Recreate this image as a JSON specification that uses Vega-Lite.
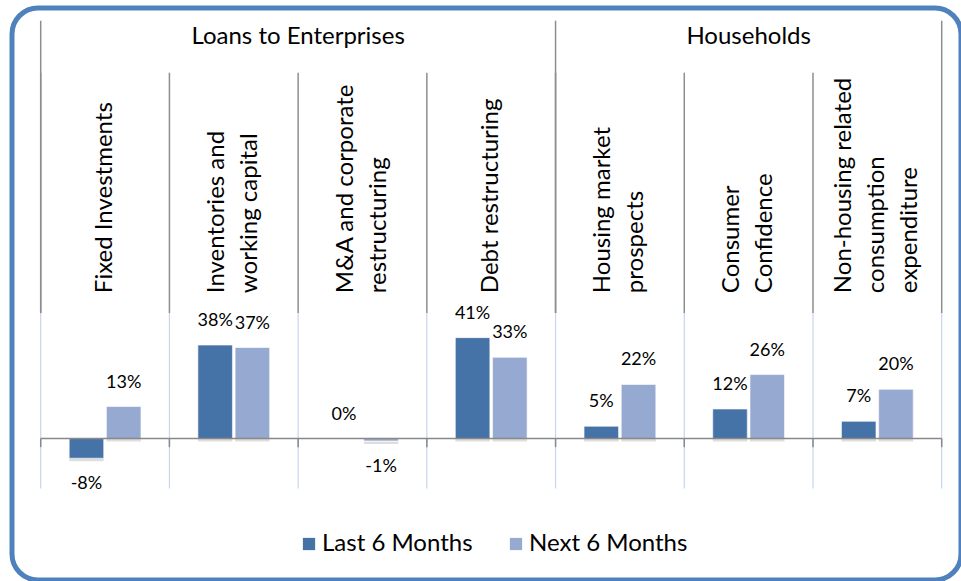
{
  "$schema": "https://vega.github.io/schema/vega-lite/v6.json",
  "width": 949,
  "height": 572,
  "autosize": {"type": "none"},
  "padding": {"left": 12, "top": 8, "right": 0, "bottom": 1},
  "config": {
    "view": {"stroke": "#4F81BD", "strokeWidth": 5, "cornerRadius": 26},
    "font": "Lato",
    "text": {"font": "Lato", "color": "#000000"}
  },
  "data": {
    "values": [
      {"group": "Loans to Enterprises", "category": "Fixed Investments", "period": "Last 6 Months", "value": -8},
      {"group": "Loans to Enterprises", "category": "Fixed Investments", "period": "Next 6 Months", "value": 13},
      {"group": "Loans to Enterprises", "category": "Inventories and\nworking capital", "period": "Last 6 Months", "value": 38},
      {"group": "Loans to Enterprises", "category": "Inventories and\nworking capital", "period": "Next 6 Months", "value": 37},
      {"group": "Loans to Enterprises", "category": "M&A and corporate\nrestructuring", "period": "Last 6 Months", "value": 0},
      {"group": "Loans to Enterprises", "category": "M&A and corporate\nrestructuring", "period": "Next 6 Months", "value": -1},
      {"group": "Loans to Enterprises", "category": "Debt restructuring", "period": "Last 6 Months", "value": 41},
      {"group": "Loans to Enterprises", "category": "Debt restructuring", "period": "Next 6 Months", "value": 33},
      {"group": "Households", "category": "Housing market\nprospects", "period": "Last 6 Months", "value": 5},
      {"group": "Households", "category": "Housing market\nprospects", "period": "Next 6 Months", "value": 22},
      {"group": "Households", "category": "Consumer\nConfidence", "period": "Last 6 Months", "value": 12},
      {"group": "Households", "category": "Consumer\nConfidence", "period": "Next 6 Months", "value": 26},
      {"group": "Households", "category": "Non-housing related\nconsumption\nexpenditure", "period": "Last 6 Months", "value": 7},
      {"group": "Households", "category": "Non-housing related\nconsumption\nexpenditure", "period": "Next 6 Months", "value": 20}
    ]
  },
  "transform": [{"calculate": "datum.value + '%'", "as": "label"}],
  "layer": [
    {
      "transform": [{"filter": "datum.period == 'Last 6 Months'"}],
      "mark": {"type": "rule", "color": "#C6D6EC", "strokeWidth": 1.2},
      "encoding": {
        "x": {"field": "category", "type": "nominal", "bandPosition": 0, "axis": null, "scale": {"domain": ["Fixed Investments", "Inventories and\nworking capital", "M&A and corporate\nrestructuring", "Debt restructuring", "Housing market\nprospects", "Consumer\nConfidence", "Non-housing related\nconsumption\nexpenditure"], "paddingInner": 0, "paddingOuter": 0.1865, "align": 0.598}},
        "y": {"datum": 51, "type": "quantitative", "axis": null, "scale": {"domain": [-57.5, 175], "nice": false, "zero": false}},
        "y2": {"datum": -20.3}
      }
    },
    {
      "transform": [{"filter": "datum.period == 'Last 6 Months' && indexof(datum.category, 'Non-housing') == 0"}],
      "mark": {"type": "rule", "color": "#C6D6EC", "strokeWidth": 1.2},
      "encoding": {
        "x": {"field": "category", "type": "nominal", "bandPosition": 1, "axis": null},
        "y": {"datum": 51, "type": "quantitative", "axis": null},
        "y2": {"datum": -20.3}
      }
    },
    {
      "transform": [{"filter": "datum.period == 'Last 6 Months'"}],
      "mark": {"type": "rule", "color": "#8E8E8E", "strokeWidth": 1.5},
      "encoding": {
        "x": {"field": "category", "type": "nominal", "bandPosition": 0, "axis": null},
        "y": {"datum": 51, "type": "quantitative", "axis": null},
        "y2": {"datum": 148.7}
      }
    },
    {
      "transform": [{"filter": "datum.period == 'Last 6 Months' && (datum.category == 'Fixed Investments' || indexof(datum.category, 'Housing market') == 0)"}],
      "mark": {"type": "rule", "color": "#8E8E8E", "strokeWidth": 1.5},
      "encoding": {
        "x": {"field": "category", "type": "nominal", "bandPosition": 0, "axis": null},
        "y": {"datum": 51, "type": "quantitative", "axis": null},
        "y2": {"datum": 169.8}
      }
    },
    {
      "transform": [{"filter": "datum.period == 'Last 6 Months' && indexof(datum.category, 'Non-housing') == 0"}],
      "mark": {"type": "rule", "color": "#8E8E8E", "strokeWidth": 1.5},
      "encoding": {
        "x": {"field": "category", "type": "nominal", "bandPosition": 1, "axis": null},
        "y": {"datum": 51, "type": "quantitative", "axis": null},
        "y2": {"datum": 169.8}
      }
    },
    {
      "mark": {"type": "bar", "color": "#000000", "opacity": 0.13, "xOffset": 2, "yOffset": 3},
      "encoding": {
        "x": {"field": "category", "type": "nominal", "axis": null},
        "xOffset": {"field": "period", "type": "nominal", "scale": {"paddingInner": 0.073, "paddingOuter": 0.765}},
        "y": {"field": "value", "type": "quantitative", "axis": null}
      }
    },
    {
      "mark": {"type": "bar", "stroke": "#FFFFFF", "strokeWidth": 0.6},
      "encoding": {
        "x": {"field": "category", "type": "nominal", "axis": null},
        "xOffset": {"field": "period", "type": "nominal", "scale": {"paddingInner": 0.073, "paddingOuter": 0.765}},
        "y": {"field": "value", "type": "quantitative", "axis": null},
        "color": {
          "field": "period",
          "type": "nominal",
          "scale": {"domain": ["Last 6 Months", "Next 6 Months"], "range": ["#4572A7", "#95A9D1"]},
          "legend": {
            "orient": "none",
            "legendX": 285,
            "legendY": 524,
            "direction": "horizontal",
            "title": null,
            "symbolType": "square",
            "symbolSize": 150,
            "symbolStrokeWidth": 0,
            "labelFontSize": 24,
            "labelFont": "Lato",
            "labelColor": "#000000",
            "labelOffset": 1,
            "columnPadding": 31,
            "padding": 0
          }
        }
      }
    },
    {
      "transform": [{"filter": "datum.period == 'Last 6 Months'"}],
      "mark": {"type": "rule", "color": "#888888", "strokeWidth": 1.5},
      "encoding": {
        "x": {"field": "category", "type": "nominal", "bandPosition": 0, "axis": null},
        "x2": {"field": "category", "bandPosition": 1},
        "y": {"datum": 0, "type": "quantitative", "axis": null}
      }
    },
    {
      "transform": [{"filter": "datum.period == 'Last 6 Months'"}],
      "mark": {"type": "rule", "color": "#888888", "strokeWidth": 1.5},
      "encoding": {
        "x": {"field": "category", "type": "nominal", "bandPosition": 0, "axis": null},
        "y": {"datum": 0, "type": "quantitative", "axis": null},
        "y2": {"datum": -3.5}
      }
    },
    {
      "transform": [{"filter": "datum.period == 'Last 6 Months' && indexof(datum.category, 'Non-housing') == 0"}],
      "mark": {"type": "rule", "color": "#888888", "strokeWidth": 1.5},
      "encoding": {
        "x": {"field": "category", "type": "nominal", "bandPosition": 1, "axis": null},
        "y": {"datum": 0, "type": "quantitative", "axis": null},
        "y2": {"datum": -3.5}
      }
    },
    {
      "transform": [{"filter": "datum.value >= 0"}],
      "mark": {"type": "text", "fontSize": 18, "dy": -24, "baseline": "middle"},
      "encoding": {
        "x": {"field": "category", "type": "nominal", "axis": null},
        "xOffset": {"field": "period", "type": "nominal", "scale": {"paddingInner": 0.073, "paddingOuter": 0.765}},
        "y": {"field": "value", "type": "quantitative", "axis": null},
        "text": {"field": "label", "type": "nominal"}
      }
    },
    {
      "transform": [{"filter": "datum.value < 0"}],
      "mark": {"type": "text", "fontSize": 18, "dy": 26, "baseline": "middle"},
      "encoding": {
        "x": {"field": "category", "type": "nominal", "axis": null},
        "xOffset": {"field": "period", "type": "nominal", "scale": {"paddingInner": 0.073, "paddingOuter": 0.765}},
        "y": {"field": "value", "type": "quantitative", "axis": null},
        "text": {"field": "label", "type": "nominal"}
      }
    },
    {
      "transform": [{"filter": "datum.period == 'Last 6 Months' && length(split(datum.category, '\\n')) == 1"}],
      "mark": {"type": "text", "fontSize": 24, "angle": 270, "align": "left", "baseline": "middle", "lineBreak": "\n", "lineHeight": 33},
      "encoding": {
        "x": {"field": "category", "type": "nominal", "axis": null},
        "y": {"datum": 59.1, "type": "quantitative", "axis": null},
        "text": {"field": "category", "type": "nominal"}
      }
    },
    {
      "transform": [{"filter": "datum.period == 'Last 6 Months' && length(split(datum.category, '\\n')) == 2"}],
      "mark": {"type": "text", "fontSize": 24, "angle": 270, "align": "left", "baseline": "middle", "lineBreak": "\n", "lineHeight": 33, "xOffset": -16.5},
      "encoding": {
        "x": {"field": "category", "type": "nominal", "axis": null},
        "y": {"datum": 59.1, "type": "quantitative", "axis": null},
        "text": {"field": "category", "type": "nominal"}
      }
    },
    {
      "transform": [{"filter": "datum.period == 'Last 6 Months' && length(split(datum.category, '\\n')) == 3"}],
      "mark": {"type": "text", "fontSize": 24, "angle": 270, "align": "left", "baseline": "middle", "lineBreak": "\n", "lineHeight": 33, "xOffset": -33},
      "encoding": {
        "x": {"field": "category", "type": "nominal", "axis": null},
        "y": {"datum": 59.1, "type": "quantitative", "axis": null},
        "text": {"field": "category", "type": "nominal"}
      }
    },
    {
      "transform": [{"filter": "datum.period == 'Last 6 Months' && indexof(datum.category, 'M&A') == 0"}],
      "mark": {"type": "text", "fontSize": 24, "baseline": "middle", "align": "center"},
      "encoding": {
        "x": {"field": "category", "type": "nominal", "bandPosition": 0, "axis": null},
        "y": {"datum": 163.2, "type": "quantitative", "axis": null},
        "text": {"field": "group", "type": "nominal"}
      }
    },
    {
      "transform": [{"filter": "datum.period == 'Last 6 Months' && indexof(datum.category, 'Consumer') == 0"}],
      "mark": {"type": "text", "fontSize": 24, "baseline": "middle", "align": "center"},
      "encoding": {
        "x": {"field": "category", "type": "nominal", "bandPosition": 0.5, "axis": null},
        "y": {"datum": 163.2, "type": "quantitative", "axis": null},
        "text": {"field": "group", "type": "nominal"}
      }
    }
  ]
}
